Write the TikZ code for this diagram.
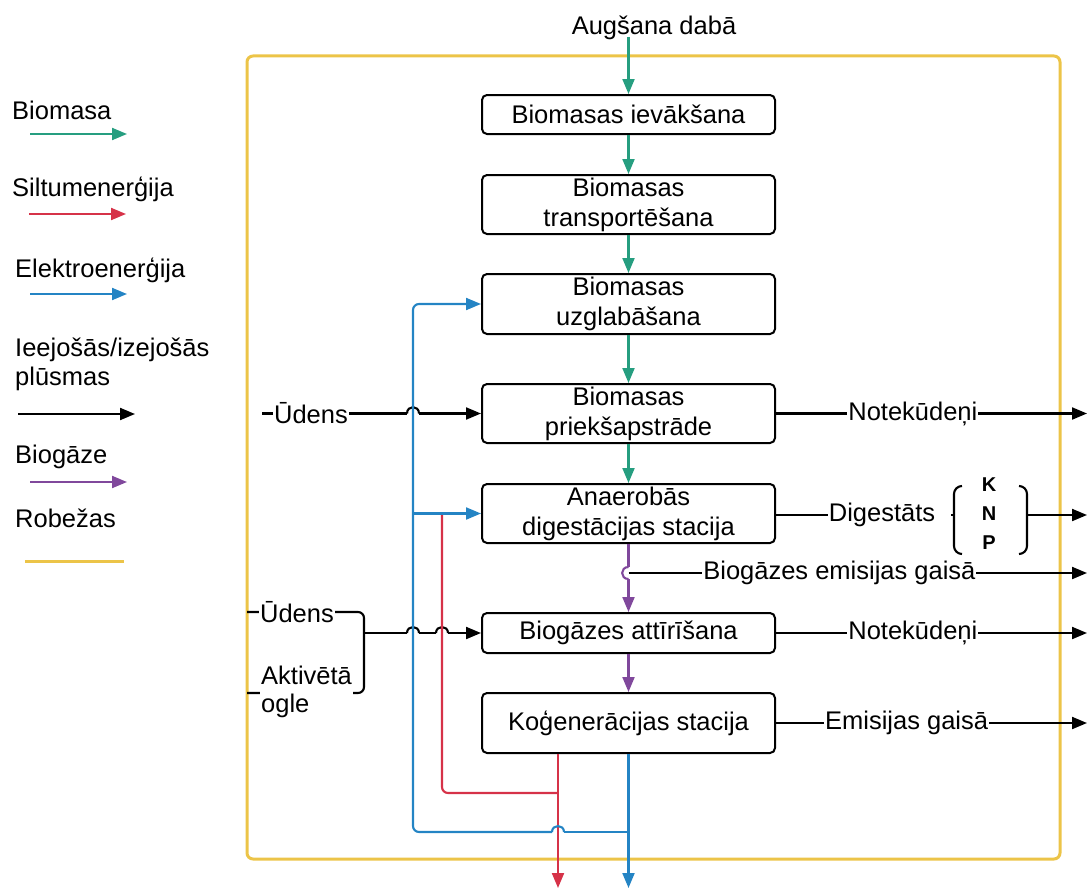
\documentclass[tikz,border=0pt]{standalone}
\usepackage{fontspec}
\setmainfont{Liberation Sans}
\usetikzlibrary{arrows.meta}
\definecolor{biomass}{RGB}{38,158,128}
\definecolor{heat}{RGB}{214,50,72}
\definecolor{elec}{RGB}{36,132,196}
\definecolor{biogas}{RGB}{128,72,156}
\definecolor{bound}{RGB}{236,196,72}

\begin{document}
\begin{tikzpicture}[x=1pt,y=-1pt,
  font=\fontsize{25.5}{30}\selectfont,
  stage/.style={draw, line width=2pt, rounded corners=5pt, minimum width=293pt,
    align=center, inner sep=0pt},
  tip/.style={-{Triangle[length=15pt,width=12pt]}},
  wire/.style={line width=2.1pt},
  gline/.style={wire, draw=biomass},
  hline/.style={wire, draw=heat},
  eline/.style={wire, draw=elec},
  pline/.style={wire, draw=biogas},
  kline/.style={wire, draw=black},
  lab/.style={fill=white, inner sep=1pt},
  legend/.style={anchor=west, inner sep=0pt, align=left},
]
\useasboundingbox (0,0) rectangle (1089,891);

% system boundary
\draw[line width=3pt, draw=bound, rounded corners=6pt] (247,56) rectangle (1060,859);

% legend
\node[legend] (lg1) at (12,110) {Biomasa};
\draw[gline, tip] (30,134) -- (127,134);
\node[legend] (lg2) at (12,189) {Siltumenerģija};
\draw[hline, tip] (29,214) -- (126,214);
\node[legend] (lg3) at (15,270) {Elektroenerģija};
\draw[eline, tip] (30,294) -- (127,294);
\node[legend, font=\fontsize{25.5}{29}\selectfont] (lg4) at (15,364) {Ieejošās/izejošās\\plūsmas};
\draw[kline, tip] (18,414) -- (135,414);
\node[legend] (lg5) at (15,457) {Biogāze};
\draw[pline, tip] (30,482) -- (127,482);
\node[legend] (lg6) at (15,518) {Robežas};
\draw[line width=3pt, draw=bound] (25,561) -- (124,561);

% process stages
\node[inner sep=0pt] (top) at (654,28) {Augšana dabā};
\node[stage, minimum height=39pt] (b1) at (628.5,114.5) {Biomasas ievākšana};
\node[stage, minimum height=59pt] (b2) at (628.5,204.5) {Biomasas\\transportēšana};
\node[stage, minimum height=60pt] (b3) at (628.5,304) {Biomasas\\uzglabāšana};
\node[stage, minimum height=59pt] (b4) at (628.5,413.5) {Biomasas\\priekšapstrāde};
\node[stage, minimum height=59pt] (b5) at (628.5,513.5) {Anaerobās\\digestācijas stacija};
\node[stage, minimum height=40pt] (b6) at (628.5,633) {Biogāzes attīrīšana};
\node[stage, minimum height=60pt] (b7) at (628.5,723) {Koģenerācijas stacija};

% biomass flow
\coordinate (g0) at (628.5,37);
\draw[gline, tip] (g0) -- (b1.north);
\draw[gline, tip] (b1.south) -- (b2.north);
\draw[gline, tip] (b2.south) -- (b3.north);
\draw[gline, tip] (b3.south) -- (b4.north);
\draw[gline, tip] (b4.south) -- (b5.north);

% biogas flow, hopping over the emission branch
\coordinate (p1) at (628.5,567);
\coordinate (p2) at (628.5,579);
\draw[pline] (b5.south) -- (p1);
\draw[pline] (p1) .. controls (620,567) and (620,579) .. (p2);
\draw[pline, tip] (p2) -- (b6.north);
\draw[pline, tip] (b6.south) -- (b7.north);

% outputs on the right
\coordinate (o4) at (1087,413.5);
\coordinate (o5) at (1087,515);
\coordinate (oe) at (1087,573);
\coordinate (o6) at (1087,633);
\coordinate (o7) at (1087,723);
\coordinate (e0) at (628.5,573);
\draw[kline, tip] (b4.east) -- node[lab, pos=0.44] (nk1) {Notekūdeņi} (o4);
\draw[kline, tip] (e0) -- node[lab, pos=0.46] (em1) {Biogāzes emisijas gaisā} (oe);
\draw[kline, tip] (b6.east) -- node[lab, pos=0.44] (nk2) {Notekūdeņi} (o6);
\draw[kline, tip] (b7.east) -- node[lab, pos=0.42] (em2) {Emisijas gaisā} (o7);

% digestate with its nutrients
\node[inner sep=1pt] (dig) at (882,515) {Digestāts};
\draw[kline] (b5.east |- dig.west) -- (dig.west);
\node[align=center, inner sep=0pt, font=\fontsize{20}{29}\selectfont\bfseries] (knp) at (989,514) {K\\N\\P};
\draw[kline, rounded corners=8pt] (962,486) -- (954,486) -- (954,554) -- (962,554);
\draw[kline] (954,515) -- (951,515);
\draw[kline, rounded corners=8pt] (1019,486) -- (1027,486) -- (1027,554) -- (1019,554);
\coordinate (kr) at (1027,515);
\draw[kline, tip] (kr) -- (o5);

% water to pretreatment, hopping over the power line
\coordinate (w1) at (262,413.5);
\draw[kline] (w1) -- (407,413.5);
\draw[kline] (407,413.5) .. controls (407,405) and (419,405) .. (419,413.5);
\draw[kline, tip] (419,413.5) -- (b4.west);
\node[lab] (ud1) at (311,413.5) {Ūdens};

% water and activated carbon to biogas cleaning
\draw[kline, rounded corners=6pt] (247,612) -- (364,612) -- (364,650) -- (364,693) -- (247,693);
\draw[kline] (364,633) -- (407,633);
\draw[kline] (407,633) .. controls (407,625) and (419,625) .. (419,633);
\draw[kline] (419,633) -- (436,633);
\draw[kline] (436,633) .. controls (436,625) and (448,625) .. (448,633);
\draw[kline, tip] (448,633) -- (b6.west);
\node[lab] (ud2) at (297,612) {Ūdens};
\node[lab, anchor=west, align=left, font=\fontsize{25.5}{28}\selectfont] (ak) at (260,692) {Aktivētā\\ogle};

% heat from cogeneration
\coordinate (h0) at ([xshift=-70.5pt]b7.south);
\draw[hline, tip] (h0) -- (558,888);
\draw[hline, rounded corners=6pt] (558,793) -- (442,793) -- (442,513.5);

% electricity from cogeneration
\draw[eline, tip] (b7.south) -- (628.5,888);
\draw[eline] (628.5,832) -- (564,832);
\draw[eline] (564,832) .. controls (564,824) and (552,824) .. (552,832);
\draw[eline, rounded corners=6pt, tip] (552,832) -- (413,832) -- (413,304) -- (b3.west);
\draw[eline, tip] (413,513.5) -- (b5.west);
\end{tikzpicture}
\end{document}
